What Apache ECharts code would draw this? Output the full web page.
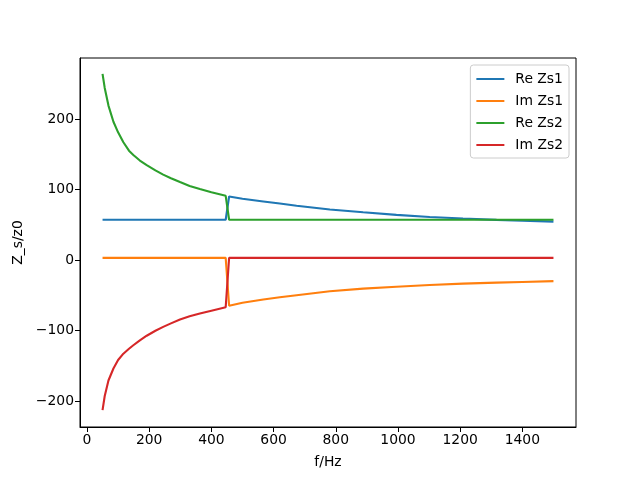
<!DOCTYPE html>
<html>
<head>
<meta charset="utf-8">
<script src="https://cdn.jsdelivr.net/npm/echarts@6/dist/echarts.min.js"></script>
<style>html,body{margin:0;padding:0;background:#fff}#c{width:640px;height:480px}</style>
</head>
<body>
<div id="c"></div>
<script>
const freq = [50, 57, 69, 85, 100, 117, 135, 149, 170, 192, 220, 245, 270, 299, 330, 363, 400, 446,
              457, 500, 567, 620, 674, 781, 888, 995, 1102, 1209, 1317, 1400, 1500];
const reZs1 = [57, 57, 57, 57, 57, 57, 57, 57, 57, 57, 57, 57, 57, 57, 57, 57, 57, 57,
               90, 86.8, 83, 80, 77, 71.5, 67.7, 64, 61, 58.7, 56.8, 55.8, 54.4];
const imZs1 = [3, 3, 3, 3, 3, 3, 3, 3, 3, 3, 3, 3, 3, 3, 3, 3, 3, 3,
               -65, -60.8, -56, -53, -50, -44.5, -40.7, -38, -35.5, -33.6, -32.2, -31.2, -30];
const reZs2 = [264, 244, 219, 196, 181, 167, 155, 149, 141, 134.5, 127, 121, 116, 110.5, 105, 100.5, 96, 91];
const imZs2 = [-213, -193, -171, -154, -142, -133, -126, -121, -114, -107.5, -100.5, -95, -90, -84.5, -80, -76, -72, -67];
const reZs2High = [57, 57, 57, 57, 57, 57, 57, 57, 57, 57, 57, 57, 57];
const imZs2High = [3, 3, 3, 3, 3, 3, 3, 3, 3, 3, 3, 3, 3];
const xTicks = [0, 200, 400, 600, 800, 1000, 1200, 1400];
const yTicks = [-200, -100, 0, 100, 200];
const seriesNames = ['Re Zs1', 'Im Zs1', 'Re Zs2', 'Im Zs2'];
const colors = ['#1f77b4', '#ff7f0e', '#2ca02c', '#d62728'];

const pairs = arr => freq.map((f, i) => [f, arr[i]]);
const chart = echarts.init(document.getElementById('c'));
const font = 'DejaVu Sans';
const seriesValues = [reZs1, imZs1, reZs2.concat(reZs2High), imZs2.concat(imZs2High)];
chart.setOption({
  animation: false,
  color: colors,
  grid: { left: 80, right: 64, top: 58, bottom: 53, show: true, borderColor: '#000', borderWidth: 1, backgroundColor: 'transparent' },
  legend: {
    orient: 'vertical', right: 71, top: 65,
    data: seriesNames,
    icon: 'rect', itemWidth: 28, itemHeight: 2, itemGap: 8,
    padding: [7, 6, 6, 6],
    borderColor: '#cccccc', borderWidth: 1, borderRadius: 3,
    backgroundColor: 'rgba(255,255,255,0.8)',
    textStyle: { fontFamily: font, fontSize: 13.9, color: '#000', padding: [0, 0, 0, 6] }
  },
  xAxis: {
    type: 'value', min: -22.5, max: 1572.5,
    name: 'f/Hz', nameLocation: 'middle', nameGap: 28,
    nameTextStyle: { fontFamily: font, fontSize: 13.9, color: '#000' },
    splitLine: { show: false },
    axisLine: { show: true, onZero: false, lineStyle: { color: '#000' } },
    axisTick: { show: true, length: 5, customValues: xTicks, lineStyle: { color: '#000' } },
    axisLabel: { customValues: xTicks, formatter: v => String(v), fontFamily: font, fontSize: 13.9, color: '#000', margin: 6 }
  },
  yAxis: {
    type: 'value', min: -237, max: 286.5,
    name: 'Z_s/z0', nameLocation: 'middle', nameGap: 52, nameRotate: 90,
    nameTextStyle: { fontFamily: font, fontSize: 13.9, color: '#000' },
    splitLine: { show: false },
    axisLine: { show: true, onZero: false, lineStyle: { color: '#000' } },
    axisTick: { show: true, length: 5, customValues: yTicks, lineStyle: { color: '#000' } },
    axisLabel: { customValues: yTicks, formatter: v => String(v).replace('-', '\u2212'), fontFamily: font, fontSize: 13.9, color: '#000', margin: 6 }
  },
  series: seriesValues.map((arr, i) => ({
    name: seriesNames[i], type: 'line', data: pairs(arr),
    showSymbol: false, smooth: false,
    lineStyle: { width: 2.1, color: colors[i] }
  }))
});
</script>
</body>
</html>
